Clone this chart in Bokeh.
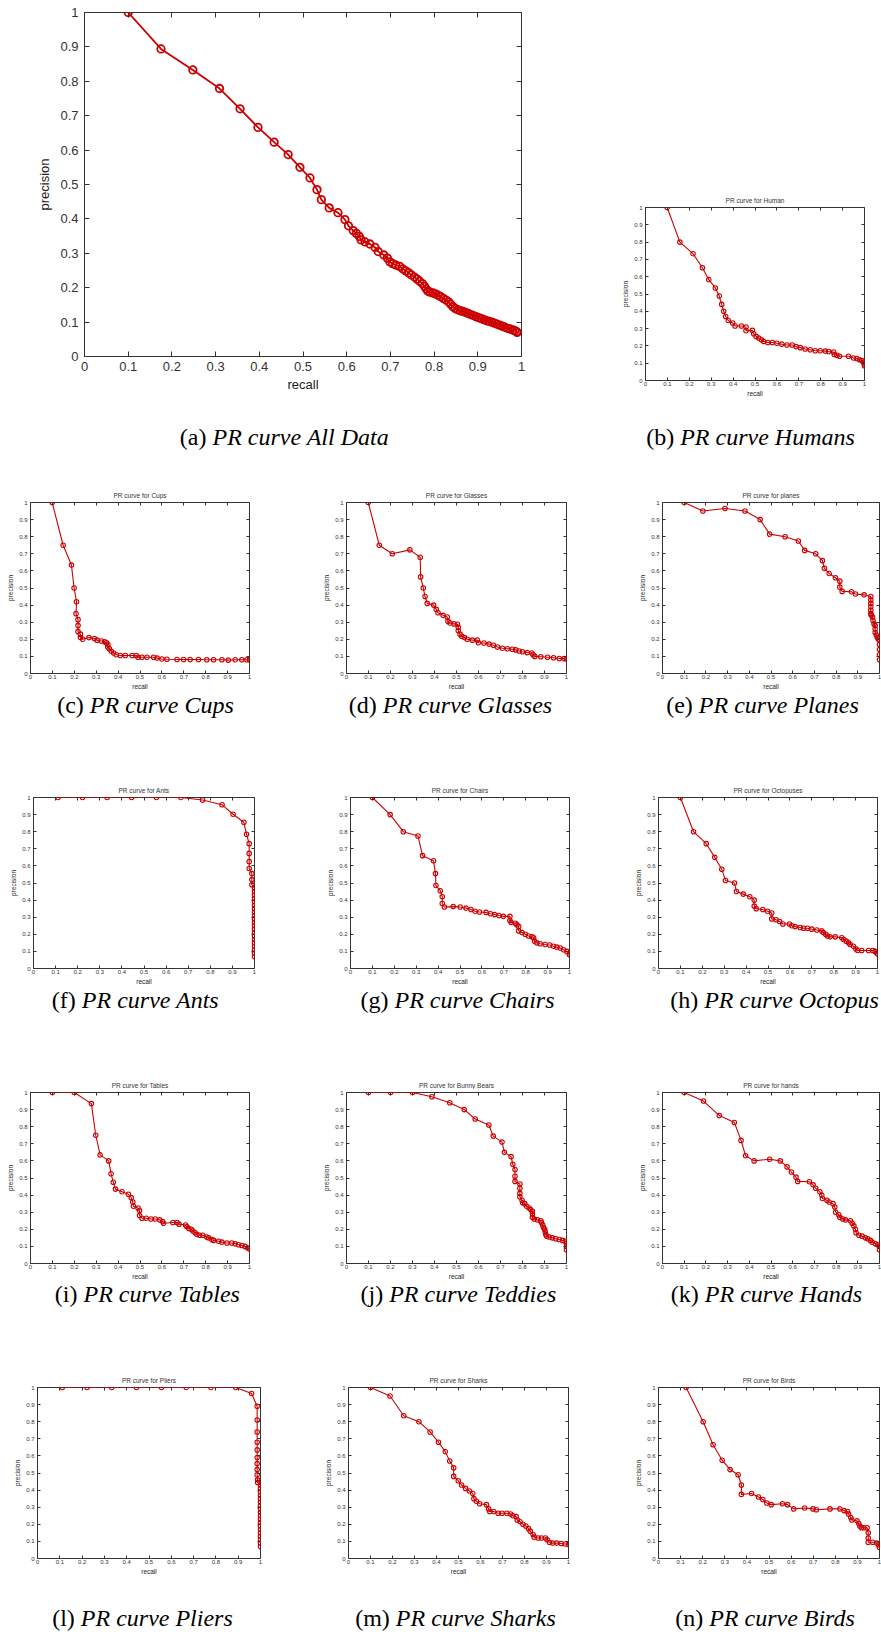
from bokeh.plotting import figure
from bokeh.models import Range1d, LinearAxis, FixedTicker
from bokeh.layouts import row, column
from bokeh.core.properties import value
from bokeh.embed import file_html
from bokeh.resources import INLINE

# ---------------- data ----------------
tick_values = [0.0, 0.1, 0.2, 0.3, 0.4, 0.5, 0.6, 0.7, 0.8, 0.9, 1.0]
tick_labels = ["0", "0.1", "0.2", "0.3", "0.4", "0.5", "0.6", "0.7", "0.8", "0.9", "1"]

all_recall = [0.1, 0.175, 0.248, 0.309, 0.356, 0.397, 0.434, 0.466, 0.493, 0.516, 0.532, 0.542, 0.56, 0.58,
              0.596, 0.604, 0.615, 0.622, 0.629, 0.633, 0.642, 0.653, 0.665, 0.672, 0.685, 0.693, 0.699,
              0.705, 0.712, 0.721, 0.728, 0.735, 0.742, 0.748, 0.755, 0.761, 0.767, 0.773, 0.778, 0.782,
              0.786, 0.791, 0.797, 0.803, 0.809, 0.815, 0.821, 0.827, 0.833, 0.838, 0.843, 0.848, 0.854,
              0.860, 0.866, 0.872, 0.878, 0.884, 0.890, 0.896, 0.902, 0.908, 0.914, 0.920, 0.926, 0.932,
              0.938, 0.944, 0.950, 0.956, 0.962, 0.968, 0.974, 0.980, 0.985, 0.989, 0.990]
all_precision = [1.0, 0.894, 0.833, 0.779, 0.72, 0.666, 0.623, 0.587, 0.55, 0.519, 0.485, 0.456, 0.432, 0.418,
                 0.398, 0.38, 0.366, 0.358, 0.349, 0.339, 0.333, 0.327, 0.317, 0.305, 0.295, 0.286, 0.275,
                 0.270, 0.266, 0.262, 0.255, 0.249, 0.243, 0.237, 0.231, 0.225, 0.219, 0.212, 0.204, 0.196,
                 0.190, 0.187, 0.185, 0.182, 0.178, 0.174, 0.169, 0.164, 0.159, 0.152, 0.145, 0.140, 0.136,
                 0.133, 0.131, 0.128, 0.125, 0.122, 0.119, 0.116, 0.113, 0.110, 0.107, 0.104, 0.102, 0.100,
                 0.097, 0.094, 0.091, 0.088, 0.085, 0.082, 0.080, 0.077, 0.075, 0.072, 0.070]

human_pr = [(0.099, 1.0), (0.157, 0.80), (0.217, 0.733), (0.26, 0.652), (0.289, 0.583), (0.319, 0.535),
            (0.337, 0.488), (0.348, 0.44), (0.357, 0.40), (0.366, 0.37), (0.378, 0.347), (0.398, 0.332),
            (0.409, 0.315), (0.438, 0.315), (0.459, 0.309), (0.459, 0.288), (0.488, 0.29), (0.494, 0.27),
            (0.505, 0.255), (0.517, 0.245), (0.529, 0.235), (0.54, 0.226), (0.558, 0.22), (0.579, 0.22),
            (0.6, 0.215), (0.623, 0.21), (0.646, 0.205), (0.67, 0.205), (0.688, 0.196), (0.707, 0.19),
            (0.729, 0.182), (0.752, 0.178), (0.775, 0.172), (0.798, 0.172), (0.821, 0.17), (0.836, 0.168),
            (0.859, 0.165), (0.862, 0.15), (0.874, 0.146), (0.886, 0.14), (0.927, 0.14), (0.95, 0.13),
            (0.965, 0.127), (0.977, 0.12), (0.988, 0.115), (0.995, 0.105), (1.0, 0.095), (1.0, 0.085)]

cups_pr = [(0.099, 1.0), (0.149, 0.75), (0.187, 0.634), (0.199, 0.5), (0.21, 0.42), (0.208, 0.35),
           (0.217, 0.315), (0.217, 0.28), (0.217, 0.245), (0.228, 0.23), (0.228, 0.21), (0.239, 0.20),
           (0.267, 0.21), (0.292, 0.205), (0.304, 0.195), (0.324, 0.19), (0.339, 0.185), (0.347, 0.18),
           (0.353, 0.17), (0.353, 0.155), (0.36, 0.145), (0.369, 0.13), (0.38, 0.12), (0.392, 0.11),
           (0.41, 0.105), (0.433, 0.105), (0.464, 0.105), (0.483, 0.105), (0.491, 0.095), (0.509, 0.095),
           (0.532, 0.095), (0.562, 0.095), (0.578, 0.09), (0.6, 0.085), (0.623, 0.083), (0.669, 0.082),
           (0.699, 0.082), (0.729, 0.082), (0.767, 0.082), (0.805, 0.08), (0.836, 0.08), (0.874, 0.08),
           (0.904, 0.078), (0.935, 0.08), (0.965, 0.08), (0.988, 0.08), (1.0, 0.08)]

glasses_pr = [(0.099, 1.0), (0.149, 0.75), (0.208, 0.70), (0.288, 0.723), (0.335, 0.68), (0.337, 0.565),
              (0.349, 0.50), (0.357, 0.45), (0.367, 0.41), (0.396, 0.40), (0.408, 0.375), (0.416, 0.355),
              (0.439, 0.34), (0.458, 0.33), (0.461, 0.305), (0.47, 0.295), (0.489, 0.29), (0.504, 0.288),
              (0.508, 0.27), (0.508, 0.25), (0.516, 0.23), (0.524, 0.218), (0.536, 0.21), (0.549, 0.2),
              (0.572, 0.195), (0.595, 0.195), (0.6, 0.18), (0.625, 0.178), (0.648, 0.172), (0.668, 0.165),
              (0.686, 0.155), (0.709, 0.148), (0.731, 0.145), (0.754, 0.142), (0.769, 0.138), (0.785, 0.132),
              (0.8, 0.127), (0.822, 0.122), (0.842, 0.12), (0.848, 0.11), (0.856, 0.10), (0.883, 0.098),
              (0.914, 0.095), (0.941, 0.092), (0.967, 0.088), (0.989, 0.087), (1.0, 0.085)]

planes_pr = [(0.1, 1.0), (0.186, 0.95), (0.288, 0.965), (0.38, 0.95), (0.45, 0.90), (0.494, 0.815),
             (0.565, 0.80), (0.626, 0.775), (0.655, 0.72), (0.706, 0.70), (0.737, 0.66), (0.746, 0.615),
             (0.768, 0.585), (0.797, 0.56), (0.817, 0.54), (0.817, 0.505), (0.828, 0.48), (0.871, 0.478),
             (0.889, 0.465), (0.929, 0.46), (0.96, 0.45), (0.96, 0.43), (0.96, 0.41), (0.96, 0.39),
             (0.96, 0.37), (0.96, 0.35), (0.962, 0.34), (0.968, 0.33), (0.97, 0.31), (0.975, 0.29),
             (0.98, 0.28), (0.98, 0.26), (0.98, 0.24), (0.985, 0.225), (0.99, 0.21), (0.995, 0.2),
             (1.0, 0.195), (1.0, 0.17), (1.0, 0.14), (1.0, 0.11), (1.0, 0.08)]

ants_pr = [(0.111, 1.0), (0.222, 1.0), (0.333, 1.0), (0.444, 1.0), (0.556, 1.0), (0.667, 1.0),
           (0.765, 0.985), (0.853, 0.958), (0.903, 0.902), (0.952, 0.855), (0.964, 0.785), (0.976, 0.73),
           (0.976, 0.673), (0.976, 0.625), (0.976, 0.585), (0.988, 0.555), (0.988, 0.52), (0.988, 0.49),
           (1.0, 0.47), (1.0, 0.45), (1.0, 0.43), (1.0, 0.41), (1.0, 0.39), (1.0, 0.37), (1.0, 0.35),
           (1.0, 0.33), (1.0, 0.31), (1.0, 0.29), (1.0, 0.27), (1.0, 0.25), (1.0, 0.23), (1.0, 0.21),
           (1.0, 0.19), (1.0, 0.17), (1.0, 0.15), (1.0, 0.13), (1.0, 0.11), (1.0, 0.09), (1.0, 0.07)]

chairs_pr = [(0.1, 1.0), (0.181, 0.90), (0.241, 0.80), (0.308, 0.775), (0.329, 0.66), (0.379, 0.63),
             (0.388, 0.555), (0.39, 0.485), (0.41, 0.455), (0.419, 0.42), (0.419, 0.38), (0.429, 0.36),
             (0.469, 0.362), (0.501, 0.36), (0.528, 0.353), (0.55, 0.345), (0.569, 0.335), (0.589, 0.33),
             (0.619, 0.328), (0.639, 0.32), (0.659, 0.315), (0.678, 0.31), (0.698, 0.305), (0.728, 0.305),
             (0.728, 0.28), (0.733, 0.27), (0.753, 0.265), (0.76, 0.255), (0.768, 0.245), (0.768, 0.22),
             (0.783, 0.21), (0.798, 0.20), (0.813, 0.19), (0.829, 0.185), (0.836, 0.18), (0.841, 0.16),
             (0.851, 0.15), (0.866, 0.145), (0.889, 0.14), (0.909, 0.137), (0.927, 0.13), (0.942, 0.125),
             (0.958, 0.12), (0.973, 0.11), (0.988, 0.10), (1.0, 0.09), (1.0, 0.08)]

octopus_pr = [(0.1, 1.0), (0.16, 0.80), (0.218, 0.73), (0.257, 0.65), (0.289, 0.58), (0.306, 0.515),
              (0.347, 0.50), (0.356, 0.45), (0.387, 0.435), (0.417, 0.42), (0.437, 0.40), (0.437, 0.365),
              (0.446, 0.35), (0.476, 0.345), (0.498, 0.335), (0.517, 0.325), (0.517, 0.29), (0.537, 0.285),
              (0.553, 0.275), (0.568, 0.26), (0.598, 0.26), (0.609, 0.25), (0.624, 0.245), (0.647, 0.24),
              (0.662, 0.235), (0.68, 0.235), (0.70, 0.23), (0.723, 0.225), (0.746, 0.22), (0.753, 0.21),
              (0.763, 0.20), (0.772, 0.19), (0.784, 0.185), (0.807, 0.185), (0.837, 0.18), (0.845, 0.17),
              (0.857, 0.16), (0.868, 0.15), (0.875, 0.14), (0.89, 0.13), (0.901, 0.115), (0.909, 0.105),
              (0.928, 0.105), (0.959, 0.105), (0.979, 0.105), (0.989, 0.10), (0.997, 0.09), (1.0, 0.085)]

tables_pr = [(0.1, 1.0), (0.2, 1.0), (0.278, 0.935), (0.298, 0.75), (0.318, 0.635), (0.357, 0.60),
             (0.368, 0.525), (0.378, 0.475), (0.388, 0.435), (0.418, 0.42), (0.447, 0.405), (0.46, 0.385),
             (0.467, 0.36), (0.47, 0.335), (0.491, 0.325), (0.498, 0.31), (0.498, 0.28), (0.509, 0.265),
             (0.529, 0.265), (0.55, 0.26), (0.57, 0.26), (0.59, 0.255), (0.603, 0.245), (0.608, 0.235),
             (0.65, 0.24), (0.669, 0.24), (0.678, 0.23), (0.708, 0.225), (0.714, 0.215), (0.723, 0.205),
             (0.734, 0.20), (0.742, 0.19), (0.752, 0.18), (0.76, 0.17), (0.772, 0.165), (0.787, 0.165),
             (0.805, 0.155), (0.813, 0.15), (0.828, 0.14), (0.836, 0.135), (0.859, 0.13), (0.874, 0.125),
             (0.897, 0.12), (0.919, 0.12), (0.935, 0.115), (0.95, 0.11), (0.965, 0.105), (0.98, 0.10),
             (0.991, 0.09), (1.0, 0.085)]

teddies_pr = [(0.1, 1.0), (0.2, 1.0), (0.3, 1.0), (0.388, 0.975), (0.469, 0.94), (0.535, 0.90),
              (0.585, 0.845), (0.647, 0.81), (0.667, 0.745), (0.707, 0.71), (0.718, 0.65), (0.748, 0.625),
              (0.756, 0.58), (0.766, 0.55), (0.766, 0.51), (0.766, 0.48), (0.788, 0.465), (0.788, 0.44),
              (0.788, 0.41), (0.788, 0.39), (0.798, 0.37), (0.801, 0.355), (0.81, 0.35), (0.819, 0.335),
              (0.83, 0.325), (0.838, 0.315), (0.845, 0.305), (0.845, 0.29), (0.845, 0.27), (0.853, 0.26),
              (0.868, 0.255), (0.883, 0.25), (0.886, 0.24), (0.892, 0.225), (0.895, 0.21), (0.901, 0.20),
              (0.903, 0.185), (0.906, 0.17), (0.91, 0.16), (0.921, 0.155), (0.936, 0.15), (0.951, 0.145),
              (0.967, 0.14), (0.982, 0.135), (0.994, 0.13), (1.0, 0.12), (1.0, 0.10), (1.0, 0.08)]

hands_pr = [(0.1, 1.0), (0.189, 0.95), (0.262, 0.865), (0.331, 0.825), (0.362, 0.72), (0.383, 0.63),
            (0.422, 0.60), (0.494, 0.61), (0.543, 0.60), (0.574, 0.565), (0.594, 0.535), (0.615, 0.505),
            (0.623, 0.48), (0.677, 0.478), (0.694, 0.46), (0.706, 0.44), (0.725, 0.42), (0.734, 0.40),
            (0.737, 0.38), (0.758, 0.37), (0.768, 0.36), (0.786, 0.35), (0.794, 0.33), (0.798, 0.30),
            (0.812, 0.285), (0.817, 0.27), (0.831, 0.26), (0.843, 0.255), (0.866, 0.25), (0.874, 0.235),
            (0.882, 0.22), (0.889, 0.20), (0.892, 0.18), (0.905, 0.165), (0.92, 0.16), (0.935, 0.15),
            (0.946, 0.145), (0.958, 0.135), (0.966, 0.125), (0.982, 0.115), (0.992, 0.11), (1.0, 0.10),
            (1.0, 0.08)]

pliers_pr = [(0.111, 1.0), (0.222, 1.0), (0.333, 1.0), (0.444, 1.0), (0.556, 1.0), (0.667, 1.0),
             (0.778, 1.0), (0.889, 1.0), (0.96, 0.965), (0.985, 0.89), (0.985, 0.81), (0.985, 0.74),
             (0.985, 0.68), (0.985, 0.635), (0.985, 0.59), (0.985, 0.555), (0.985, 0.52), (0.985, 0.49),
             (0.987, 0.46), (0.987, 0.445), (1.0, 0.43), (1.0, 0.41), (1.0, 0.39), (1.0, 0.37), (1.0, 0.35),
             (1.0, 0.33), (1.0, 0.31), (1.0, 0.29), (1.0, 0.27), (1.0, 0.25), (1.0, 0.23), (1.0, 0.21),
             (1.0, 0.19), (1.0, 0.17), (1.0, 0.15), (1.0, 0.13), (1.0, 0.11), (1.0, 0.09), (1.0, 0.07)]

sharks_pr = [(0.1, 1.0), (0.189, 0.95), (0.251, 0.835), (0.32, 0.80), (0.371, 0.74), (0.409, 0.68),
             (0.44, 0.625), (0.46, 0.57), (0.478, 0.53), (0.478, 0.48), (0.499, 0.455), (0.514, 0.43),
             (0.532, 0.41), (0.55, 0.395), (0.565, 0.38), (0.57, 0.35), (0.581, 0.335), (0.596, 0.32),
             (0.627, 0.315), (0.637, 0.29), (0.642, 0.275), (0.66, 0.275), (0.68, 0.265), (0.698, 0.265),
             (0.72, 0.265), (0.737, 0.26), (0.747, 0.25), (0.762, 0.245), (0.767, 0.225), (0.78, 0.215),
             (0.793, 0.20), (0.806, 0.19), (0.818, 0.175), (0.826, 0.16), (0.839, 0.14), (0.844, 0.125),
             (0.862, 0.12), (0.877, 0.12), (0.895, 0.12), (0.903, 0.11), (0.913, 0.095), (0.928, 0.09),
             (0.946, 0.09), (0.967, 0.088), (0.985, 0.085), (1.0, 0.082)]

birds_pr = [(0.125, 1.0), (0.202, 0.80), (0.247, 0.665), (0.288, 0.575), (0.324, 0.52), (0.36, 0.49),
            (0.375, 0.43), (0.375, 0.375), (0.421, 0.38), (0.452, 0.36), (0.472, 0.345), (0.49, 0.325),
            (0.51, 0.315), (0.561, 0.32), (0.584, 0.315), (0.612, 0.29), (0.661, 0.295), (0.699, 0.29),
            (0.714, 0.285), (0.776, 0.29), (0.821, 0.29), (0.839, 0.28), (0.855, 0.275), (0.86, 0.26),
            (0.87, 0.24), (0.875, 0.225), (0.898, 0.22), (0.906, 0.205), (0.911, 0.19), (0.918, 0.18),
            (0.929, 0.18), (0.944, 0.18), (0.949, 0.15), (0.949, 0.12), (0.949, 0.095), (0.969, 0.095),
            (0.987, 0.09), (0.995, 0.08), (1.0, 0.065)]

# ---------------- styling helpers ----------------
RED = "#cc0000"
INK = "#333333"
CAP_FS = 24

REG_W = {'(': 333, ')': 333, ' ': 250, 'a': 444, 'b': 500, 'c': 444, 'd': 500, 'e': 444, 'f': 333,
         'g': 500, 'h': 500, 'i': 278, 'j': 278, 'k': 500, 'l': 278, 'm': 778, 'n': 500}
ITA_W = {' ': 250, 'P': 611, 'R': 611, 'c': 444, 'u': 500, 'r': 389, 'v': 444, 'e': 444, 'A': 611,
         'l': 278, 'D': 722, 'a': 500, 't': 278, 'H': 722, 'm': 722, 'n': 500, 's': 389, 'C': 667,
         'p': 500, 'G': 722, 'o': 500, 'O': 722, 'T': 556, 'd': 500, 'i': 278, 'h': 500, 'k': 444,
         'S': 500, 'B': 611}


def text_w(s, table):
    return sum(table.get(ch, 500) for ch in s) / 1000.0


def no_align(p):
    try:
        p.frame_align = False
    except Exception:
        pass


def style_axis(ax, fs, tl, standoff, label=None, label_fs=None, label_standoff=3, show=True):
    ax.ticker = FixedTicker(ticks=tick_values)
    ax.major_tick_in = tl
    ax.major_tick_out = 0
    ax.minor_tick_in = 0
    ax.minor_tick_out = 0
    ax.axis_line_color = None
    ax.major_tick_line_color = INK
    ax.major_tick_line_width = 1
    if show:
        ax.major_label_overrides = {v: t for v, t in zip(tick_values, tick_labels)}
        ax.major_label_text_font = "Liberation Sans"
        ax.major_label_text_color = INK
        ax.major_label_text_font_size = f"{fs}px"
        ax.major_label_standoff = standoff
    else:
        ax.major_label_text_color = None
        ax.major_label_text_font_size = "1px"
        ax.major_label_standoff = 0
    if label:
        ax.axis_label = label
        ax.axis_label_text_font = "Liberation Sans"
        ax.axis_label_text_font_size = f"{label_fs}px"
        ax.axis_label_text_font_style = "normal"
        ax.axis_label_text_color = "#222222"
        ax.axis_label_standoff = label_standoff


def blank_fig(x0, w, ytop, ybot):
    f = figure(width=w, height=ybot - ytop, x_range=Range1d(x0, x0 + w), y_range=Range1d(ybot, ytop),
               output_backend="svg", toolbar_location=None, title_location=None,
               x_axis_location=None, y_axis_location=None,
               min_border_left=0, min_border_right=0, min_border_top=0, min_border_bottom=0)
    no_align(f)
    f.outline_line_color = None
    f.xgrid.visible = False
    f.ygrid.visible = False
    return f


def make_plot(xs, ys, x0, w, ytop, ybot, frame_x, frame_y, big=False):
    fx0, fx1 = frame_x
    fy0, fy1 = frame_y
    p = figure(width=w, height=ybot - ytop, x_range=Range1d(0, 1), y_range=Range1d(0, 1),
               output_backend="svg", toolbar_location=None, title_location=None,
               min_border_left=fx0 - x0, min_border_right=x0 + w - fx1,
               min_border_top=fy0 - ytop, min_border_bottom=ybot - fy1)
    no_align(p)
    p.xgrid.grid_line_color = None
    p.ygrid.grid_line_color = None
    p.outline_line_color = INK
    p.outline_line_width = 1
    if big:
        fs, tl, lfs = 13, 5, 13
        style_axis(p.xaxis[0], fs, tl, 5, "recall", lfs, 3)
        style_axis(p.yaxis[0], fs, tl, 6, "precision", lfs, 5)
        msize, lw = 7.5, 1.8
    else:
        fs, tl, lfs = 6, 3, 6.5
        style_axis(p.xaxis[0], fs, tl, 1, "recall", lfs, 1)
        style_axis(p.yaxis[0], fs, tl, 3, "precision", lfs, 2)
        msize, lw = 4.5, 1.1
    top = LinearAxis()
    style_axis(top, fs, tl, 0, show=False)
    p.add_layout(top, "above")
    right = LinearAxis()
    style_axis(right, fs, tl, 0, show=False)
    p.add_layout(right, "right")

    p.line(xs, ys, line_color=RED, line_width=lw)
    p.scatter(xs, ys, marker="circle", size=msize, fill_color=None, line_color=RED, line_width=lw)
    return p


def make_title(x0, w, ytop, ybot, frame_x, title, yc):
    t = blank_fig(x0, w, ytop, ybot)
    t.text(x=[(frame_x[0] + frame_x[1]) / 2.0], y=[yc], text=[title],
           text_font=value("Liberation Sans"), text_font_size=value("6.5px"),
           text_align=value("center"), text_baseline=value("middle"), text_color=INK)
    return t


def make_caption(x0, w, ytop, ybot, tag, name, cx, base):
    c = blank_fig(x0, w, ytop, ybot)
    prefix = f"({tag}) "
    italic = f"PR curve {name}"
    wp = text_w(prefix, REG_W) * CAP_FS
    wi = text_w(italic, ITA_W) * CAP_FS
    start = cx - (wp + wi) / 2.0
    c.text(x=[start], y=[base], text=[f"({tag})"], text_font=value("Liberation Serif"),
           text_font_size=value(f"{CAP_FS}px"), text_align=value("left"),
           text_baseline=value("alphabetic"), text_color="#000000")
    c.text(x=[start + wp], y=[base], text=[italic], text_font=value("Liberation Serif"),
           text_font_style=value("italic"), text_font_size=value(f"{CAP_FS}px"),
           text_align=value("left"), text_baseline=value("alphabetic"), text_color="#000000")
    return c


def split(pairs):
    return [a for a, _ in pairs], [b for _, b in pairs]


def small_cell(pairs, x0, w, ys, frame_x, frame_y, title, title_y, tag, name, cx, base):
    y0, yt, yp, ye = ys  # cell top, plot top, plot bottom / caption top, cell bottom
    xs_, ys_ = split(pairs)
    t = make_title(x0, w, y0, yt, frame_x, title, title_y)
    p = make_plot(xs_, ys_, x0, w, yt, yp, frame_x, frame_y)
    c = make_caption(x0, w, yp, ye, tag, name, cx, base)
    return column(t, p, c)


# ---------------- layout (absolute page coordinates, page origin at top-left) ----------------
cell_a = column(
    make_plot(all_recall, all_precision, 0, 567, 0, 405, (84, 521), (12, 356), big=True),
    make_caption(0, 567, 405, 465, "a", "All Data", 284, 436),
)
cell_b = small_cell(human_pr, 567, 314, (0, 204, 405, 465), (645, 864), (207, 380),
                    "PR curve for Human", 200, "b", "Humans", 750, 436)
r1 = row(cell_a, cell_b)

cols = [(0, 292), (292, 310), (602, 279)]


def row_cells(ys, fy, title_y, base, specs):
    cells = []
    for (x0, w), (pairs, fx, title, tag, name, cx) in zip(cols, specs):
        cells.append(small_cell(pairs, x0, w, ys, fx, fy, title, title_y, tag, name, cx, base))
    return row(*cells)


r2 = row_cells((465, 499, 692, 760), (502, 675), 495, 704, [
    (cups_pr, (30, 249), "PR curve for Cups", "c", "Cups", 145),
    (glasses_pr, (346, 566), "PR curve for Glasses", "d", "Glasses", 450),
    (planes_pr, (662, 879), "PR curve for planes", "e", "Planes", 762)])
r3 = row_cells((760, 794, 987, 1055), (797, 970), 790, 999, [
    (ants_pr, (33, 254), "PR curve for Ants", "f", "Ants", 135),
    (chairs_pr, (350, 569), "PR curve for Chairs", "g", "Chairs", 457),
    (octopus_pr, (658, 877), "PR curve for Octopuses", "h", "Octopus", 774)])
r4 = row_cells((1055, 1089, 1282, 1350), (1092, 1265), 1085, 1293, [
    (tables_pr, (30, 249), "PR curve for Tables", "i", "Tables", 148),
    (teddies_pr, (346, 566), "PR curve for Bunny Bears", "j", "Teddies", 459),
    (hands_pr, (662, 879), "PR curve for hands", "k", "Hands", 766)])
r5 = row_cells((1350, 1384, 1577, 1632), (1387, 1560), 1380, 1617, [
    (pliers_pr, (37, 260), "PR curve for Pliers", "l", "Pliers", 142),
    (sharks_pr, (348, 568), "PR curve for Sharks", "m", "Sharks", 455),
    (birds_pr, (658, 879), "PR curve for Birds", "n", "Birds", 765)])

layout = column(r1, r2, r3, r4, r5)

open("out.html", "w").write(file_html(layout, INLINE))
